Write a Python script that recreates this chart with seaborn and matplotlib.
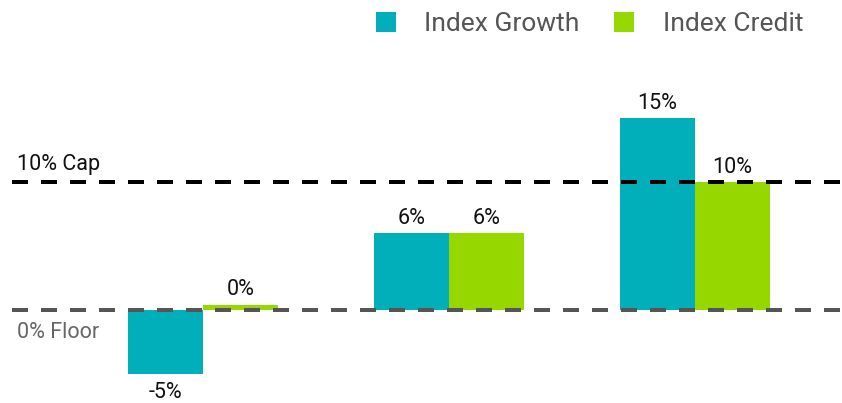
import matplotlib
matplotlib.use("Agg")
import matplotlib.pyplot as plt
from matplotlib.lines import Line2D
import seaborn as sns
import pandas as pd
import numpy as np

groups = ["A", "B", "C"]
growth = [-5, 6, 15]
credit = [0, 6, 10]
series = ["Index Growth", "Index Credit"]
colors = ["#00AFB9", "#97D700"]
cap_value = 10
floor_value = 0

sns.set_theme(style="white")
plt.rcParams["font.family"] = ["Roboto", "DejaVu Sans"]

rows = []
for g, v in zip(groups, growth):
    rows.append({"group": g, "series": series[0], "value": v})
for g, v in zip(groups, credit):
    rows.append({"group": g, "series": series[1], "value": v})
df = pd.DataFrame(rows)
# tiny visible height for zero bars
df["shown"] = df["value"].where(df["value"] != 0, 0.4)

fig = plt.figure(figsize=(8.42, 4.03), dpi=100)
ax = fig.add_axes([0, 0, 1, 1])
sns.barplot(data=df, x="group", y="shown", hue="series", hue_order=series,
            palette=colors, width=0.61, saturation=1, ax=ax, legend=False,
            linewidth=0, zorder=2)

ymin, ymax = -7.27, 24.22
ax.set_xlim(-0.825, 2.598)
ax.set_ylim(ymin, ymax)
ax.axis("off")

lw = 4 * 0.72
ax.axhline(cap_value, xmin=12 / 842, xmax=1, color="black", lw=lw,
           dashes=(4, 3.25), zorder=3)
ax.axhline(floor_value, xmin=12 / 842, xmax=1, color="#555555", lw=lw,
           dashes=(4, 3.25), zorder=3)

fs = 15.5
ax.text(17 / 842, (cap_value + 1.4 - ymin) / (ymax - ymin), "10% Cap",
        transform=ax.transAxes, fontsize=fs, color="#111111", va="center", ha="left")
ax.text(17 / 842, (floor_value - 1.75 - ymin) / (ymax - ymin), "0% Floor",
        transform=ax.transAxes, fontsize=fs, color="#666666", va="center", ha="left")

# value labels
for cont, vals in zip(ax.containers, [growth, credit]):
    for bar, v in zip(cont, vals):
        x = bar.get_x() + bar.get_width() / 2
        h = bar.get_height()
        if v < 0:
            ax.text(x, h - 0.6, f"{v}%", ha="center", va="top", fontsize=fs, color="#111111")
        else:
            ax.text(x, h + 0.35, f"{v}%", ha="center", va="bottom", fontsize=fs, color="#111111")

handles = [Line2D([], [], marker="s", linestyle="none", markersize=14.4,
                  markerfacecolor=c, markeredgewidth=0) for c in colors]
leg = ax.legend(handles, series, loc="upper right", bbox_to_anchor=(0.979, 1.022),
                ncol=2, frameon=False, fontsize=19, handlelength=1.0,
                handletextpad=0.95, columnspacing=1.2, borderpad=0.3)
for t in leg.get_texts():
    t.set_color("#555555")

fig.savefig("out.png", dpi=100)
